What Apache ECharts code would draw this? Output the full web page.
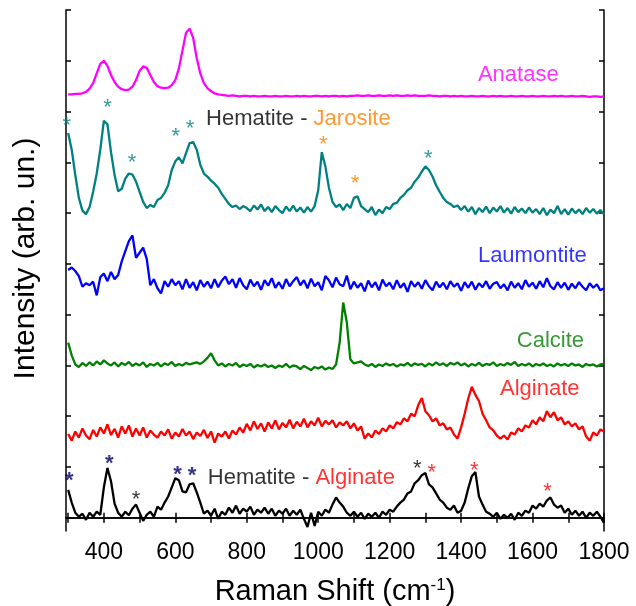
<!DOCTYPE html>
<html><head><meta charset="utf-8">
<script src="https://cdn.jsdelivr.net/npm/echarts@6/dist/echarts.min.js"></script>
<style>html,body{margin:0;padding:0;background:#fff}#c{width:636px;height:606px}</style>
</head><body><div id="c"></div>
<script>
// Raman shift grid (cm-1): 300..1800 every 10
const ramanShift = [];
for (let v = 300; v <= 1800; v += 10) ramanShift.push(v);

const xTicks = [300,400,500,600,700,800,900,1000,1100,1200,1300,1400,1500,1600,1700,1800];
const xTickLabels = [400,600,800,1000,1200,1400,1600,1800];
const yTicks = [0,1,2,3,4,5,6,7,8,9,10];

const anatase = [
8.34,8.34,8.35,8.35,8.36,8.39,8.45,8.56,8.75,8.94,
9.00,8.90,8.72,8.58,8.49,8.44,8.42,8.43,8.49,8.62,
8.80,8.89,8.86,8.72,8.58,8.50,8.47,8.46,8.47,8.52,
8.62,8.85,9.20,9.55,9.63,9.45,9.05,8.75,8.56,8.46,
8.40,8.36,8.34,8.33,8.32,8.31,8.32,8.31,8.30,8.31,
8.31,8.30,8.31,8.30,8.30,8.31,8.30,8.30,8.31,8.30,
8.30,8.31,8.30,8.30,8.31,8.30,8.31,8.30,8.30,8.31,
8.31,8.30,8.31,8.30,8.31,8.31,8.30,8.31,8.30,8.31,
8.31,8.32,8.31,8.31,8.32,8.31,8.31,8.32,8.31,8.31,
8.32,8.31,8.32,8.31,8.31,8.32,8.31,8.32,8.31,8.31,
8.31,8.32,8.31,8.31,8.30,8.31,8.31,8.30,8.31,8.30,
8.31,8.30,8.30,8.31,8.30,8.30,8.31,8.30,8.30,8.31,
8.30,8.31,8.30,8.30,8.31,8.30,8.30,8.31,8.30,8.30,
8.31,8.30,8.30,8.31,8.30,8.30,8.31,8.30,8.31,8.30,
8.30,8.31,8.30,8.30,8.31,8.30,8.29,8.30,8.30,8.29,
8.30];

const hematiteJarosite = [
7.58,7.25,6.75,6.30,6.05,5.98,6.12,6.42,6.78,7.25,
7.82,7.75,7.20,6.75,6.43,6.48,6.68,6.78,6.76,6.62,
6.42,6.22,6.10,6.16,6.12,6.26,6.30,6.40,6.55,6.85,
7.02,7.10,6.98,7.18,7.38,7.40,7.25,6.95,6.78,6.72,
6.64,6.58,6.50,6.38,6.28,6.18,6.12,6.15,6.08,6.14,
6.10,6.04,6.15,6.07,6.17,6.04,6.12,6.02,6.14,6.06,
6.00,6.13,6.04,6.15,6.03,6.11,6.01,6.12,6.03,6.14,
6.45,7.20,6.92,6.50,6.22,6.12,6.17,6.06,6.18,6.10,
6.30,6.33,6.14,6.08,6.02,6.12,5.96,6.07,6.00,6.12,
6.08,6.18,6.20,6.30,6.36,6.45,6.50,6.62,6.70,6.82,
6.92,6.85,6.72,6.55,6.42,6.30,6.22,6.18,6.12,6.15,
6.06,6.14,6.03,6.12,5.98,6.10,6.02,6.13,6.00,6.11,
6.03,6.14,6.01,6.10,5.99,6.12,6.02,6.09,6.00,6.11,
6.01,6.08,5.98,6.10,5.96,6.07,6.00,6.14,5.98,6.08,
5.97,6.09,6.00,6.07,5.98,6.10,6.01,6.08,5.99,6.06,
5.98];

const laumontite = [
4.88,4.93,4.86,4.76,4.55,4.62,4.58,4.65,4.38,4.74,
4.81,4.66,4.84,4.70,4.78,5.05,5.25,5.45,5.56,5.12,
5.22,5.32,5.10,4.58,4.70,4.52,4.42,4.66,4.55,4.70,
4.58,4.66,4.50,4.70,4.53,4.64,4.48,4.68,4.55,4.65,
4.52,4.70,4.54,4.67,4.75,4.60,4.70,4.53,4.72,4.58,
4.50,4.69,4.56,4.65,4.49,4.68,4.57,4.72,4.53,4.64,
4.51,4.70,4.56,4.66,4.74,4.58,4.68,4.52,4.71,4.56,
4.64,4.48,4.76,4.68,4.54,4.73,4.60,4.56,4.77,4.50,
4.65,4.53,4.62,4.46,4.67,4.54,4.64,4.48,4.69,4.56,
4.63,4.50,4.68,4.53,4.62,4.45,4.66,4.55,4.64,4.51,
4.68,4.56,4.48,4.65,4.54,4.63,4.50,4.66,4.55,4.62,
4.47,4.64,4.53,4.65,4.49,4.62,4.54,4.66,4.51,4.61,
4.64,4.52,4.60,4.48,4.65,4.53,4.62,4.50,4.68,4.55,
4.63,4.51,4.66,4.54,4.72,4.56,4.50,4.64,4.53,4.63,
4.49,4.61,4.52,4.64,4.55,4.48,4.62,4.53,4.60,4.48,
4.52];

const calcite = [
3.45,3.20,3.02,2.97,3.05,2.99,3.06,3.00,3.08,3.02,
3.10,3.04,3.00,3.06,2.98,3.05,3.01,3.07,2.99,3.04,
3.00,3.06,2.97,3.03,3.00,3.05,2.98,3.04,3.01,3.07,
2.99,3.03,3.00,3.05,3.02,3.04,3.06,3.03,3.08,3.15,
3.24,3.10,3.00,3.04,2.98,3.03,3.00,3.05,2.97,3.02,
2.99,3.03,2.96,3.01,2.98,3.02,2.97,3.00,2.95,3.00,
2.97,3.03,2.96,3.00,2.98,2.93,2.99,2.95,2.91,2.97,
2.94,2.98,2.92,2.96,2.93,3.02,3.45,4.24,3.85,3.12,
3.04,3.06,3.08,3.02,2.99,3.03,2.97,3.02,2.99,3.04,
3.00,3.03,2.98,3.02,3.00,3.05,2.99,3.04,3.01,3.03,
2.98,3.04,3.00,3.06,3.01,3.04,2.99,3.05,3.02,3.06,
3.00,3.04,2.98,3.03,3.00,3.05,2.99,3.03,3.01,3.06,
2.99,3.03,3.00,3.05,3.01,3.07,2.99,3.03,3.00,3.04,
2.98,3.03,3.00,3.04,2.99,3.02,2.98,3.04,3.00,3.03,
2.99,3.04,3.00,3.02,2.97,3.03,3.00,3.02,2.98,3.02,
3.03];

const alginate = [
1.65,1.52,1.70,1.58,1.76,1.62,1.55,1.73,1.60,1.78,
1.66,1.84,1.63,1.75,1.58,1.80,1.66,1.82,1.60,1.76,
1.62,1.78,1.58,1.72,1.64,1.58,1.70,1.62,1.74,1.56,
1.68,1.60,1.75,1.62,1.70,1.55,1.68,1.61,1.73,1.57,
1.70,1.48,1.66,1.60,1.70,1.56,1.72,1.64,1.78,1.68,
1.85,1.72,1.90,1.75,1.86,1.70,1.88,1.76,1.92,1.74,
1.87,1.78,1.93,1.76,1.89,1.80,1.95,1.78,1.90,1.82,
1.97,1.80,1.91,1.84,1.92,1.78,1.88,1.82,1.90,1.76,
1.86,1.72,1.80,1.56,1.66,1.58,1.72,1.65,1.76,1.70,
1.82,1.76,1.88,1.84,1.96,1.90,2.05,2.00,2.22,2.36,
2.10,2.02,1.90,1.96,1.82,1.86,1.74,1.78,1.64,1.56,
1.78,2.05,2.35,2.58,2.42,2.30,2.05,1.92,1.78,1.72,
1.62,1.56,1.62,1.54,1.68,1.64,1.76,1.70,1.82,1.78,
1.92,1.84,1.98,1.90,2.10,1.98,2.08,1.92,1.98,1.84,
1.90,1.80,1.86,1.74,1.80,1.60,1.52,1.68,1.62,1.74,
1.70];

const hematiteAlginate = [
0.55,0.30,0.10,0.02,0.08,-0.04,0.10,0.02,0.12,0.06,
0.60,0.98,0.72,0.28,0.10,0.02,0.12,0.05,0.18,0.26,
0.10,-0.06,0.06,0.12,0.02,0.22,0.16,0.30,0.42,0.60,
0.78,0.74,0.52,0.50,0.66,0.68,0.50,0.30,0.08,0.14,
0.04,0.18,-0.02,0.12,0.06,0.20,0.10,0.24,0.08,0.18,
0.12,0.22,0.06,0.16,0.10,0.20,0.08,0.18,0.04,0.14,
0.08,0.18,0.04,0.14,0.06,0.16,-0.02,-0.18,0.10,-0.16,
0.12,0.04,0.16,0.10,0.26,0.40,0.30,0.22,0.10,0.04,
0.12,0.02,0.10,-0.02,0.08,0.02,0.10,0.00,0.12,0.06,
0.16,0.12,0.22,0.30,0.36,0.48,0.52,0.68,0.74,0.84,
0.88,0.66,0.60,0.48,0.36,0.30,0.20,0.16,0.24,0.10,
0.14,0.30,0.58,0.82,0.90,0.42,0.26,0.12,0.08,0.02,
0.10,-0.02,0.06,0.00,0.08,-0.04,0.10,0.04,0.14,0.10,
0.24,0.18,0.28,0.22,0.34,0.40,0.26,0.20,0.24,0.10,
0.18,0.06,0.14,0.04,0.12,0.00,0.10,0.04,0.12,0.02,
-0.10];

// Series names and colours
const seriesNames = ['Anatase','Hematite - Jarosite','Laumontite','Calcite','Alginate','Hematite - Alginate'];
const seriesColors = ['#FF00FF','#008080','#0000FF','#008000','#FF0000','#000000'];
const seriesValues = [anatase, hematiteJarosite, laumontite, calcite, alginate, hematiteAlginate];

// Text annotations (data coordinates of left edge / vertical centre)
const annotationTexts = ['{m|Anatase}','{k|Hematite - }{o|Jarosite}','{b|Laumontite}','{g|Calcite}','{r|Alginate}','{k|Hematite - }{r|Alginate}'];
const annotationX = [1447, 686, 1447, 1556, 1509, 691];
const annotationY = [8.72, 7.85, 5.16, 3.48, 2.53, 0.78];

// Asterisk peak markers (data coordinates of their centre)
const starX = [296, 410, 479, 601, 641, 1014, 1103, 1308, 303, 415, 490, 606, 647, 1277, 1318, 1437, 1642];
const starY = [7.82, 8.17, 7.09, 7.59, 7.76, 7.44, 6.67, 7.16, 0.815, 1.158, 0.454, 0.947, 0.913, 1.065, 0.98, 1.026, 0.606];
const starColor = ['#008080','#008080','#008080','#008080','#008080','#FF8000','#FF8000','#008080','#000066','#000066','#000000','#000066','#000066','#000000','#FF0000','#FF0000','#FF0000'];
const starBold = [false,false,false,false,false,false,false,false,true,true,false,true,true,false,false,false,false];

const FONT = 'Liberation Sans, Arial, Helvetica, sans-serif';
const chart = echarts.init(document.getElementById('c'), null, {renderer: 'canvas'});

const lineSeries = seriesValues.map((vals, k) => ({
  name: seriesNames[k],
  type: 'line',
  data: ramanShift.map((x, i) => [x, vals[i]]),
  showSymbol: false,
  symbol: 'none',
  lineStyle: {color: seriesColors[k], width: 2.3},
  itemStyle: {color: seriesColors[k]},
  silent: true,
  z: 3
}));

const textSeries = {
  type: 'scatter',
  symbolSize: 0,
  silent: true,
  clip: false,
  z: 5,
  data: annotationTexts.map((t, i) => ({value: [annotationX[i], annotationY[i]], label: {formatter: t}})),
  label: {
    show: true, position: 'right', distance: 0,
    fontFamily: FONT, fontSize: 22,
    rich: {
      m: {color: '#FF00FF', fontSize: 22, fontFamily: FONT},
      k: {color: '#000000', fontSize: 22, fontFamily: FONT},
      o: {color: '#FF8000', fontSize: 22, fontFamily: FONT},
      b: {color: '#0000FF', fontSize: 22, fontFamily: FONT},
      g: {color: '#008000', fontSize: 22, fontFamily: FONT},
      r: {color: '#FF0000', fontSize: 22, fontFamily: FONT}
    }
  }
};

const starSeries = {
  type: 'scatter',
  symbolSize: 0,
  silent: true,
  clip: false,
  z: 5,
  data: starX.map((x, i) => ({
    value: [x, starY[i]],
    label: {color: starColor[i], fontWeight: starBold[i] ? 'bold' : 'normal'}
  })),
  label: {
    show: true, position: 'inside', formatter: '*',
    fontFamily: FONT, fontSize: 22, offset: [0, 5]
  }
};

const axisLineStyle = {lineStyle: {color: '#000', width: 1.5}};
const tickStyle = {inside: true, length: 5, lineStyle: {color: '#000', width: 1.5}};

chart.setOption({
  animation: false,
  backgroundColor: '#fff',
  grid: {left: 66, right: 32, top: 10, bottom: 75, containLabel: false, outerBoundsMode: 'none'},
  xAxis: [{
    type: 'value', min: 294, max: 1800, position: 'bottom',
    axisLine: axisLineStyle,
    axisTick: Object.assign({customValues: xTicks}, tickStyle),
    axisLabel: {customValues: xTickLabels, color: '#000', fontSize: 23, fontFamily: FONT, margin: 10,
      formatter: function (v) { return String(v); }},
    splitLine: {show: false},
    name: 'Raman Shift (cm{sup|-1})',
    nameLocation: 'middle', nameGap: 46,
    nameTextStyle: {color: '#000', fontSize: 29, fontFamily: FONT,
      rich: {sup: {fontSize: 17, fontFamily: FONT, color: '#000', verticalAlign: 'top', padding: [0, 0, 10, 0]}}}
  }, {
    type: 'value', min: 294, max: 1800, position: 'top',
    axisLine: axisLineStyle,
    axisTick: Object.assign({customValues: xTicks}, tickStyle),
    axisLabel: {show: false},
    splitLine: {show: false}
  }],
  yAxis: [{
    type: 'value', min: -0.26, max: 10, position: 'left',
    axisLine: Object.assign({show: true}, axisLineStyle),
    axisTick: Object.assign({show: true, customValues: yTicks}, tickStyle),
    axisLabel: {show: false},
    splitLine: {show: false},
    name: 'Intensity (arb. un.)',
    nameLocation: 'middle', nameRotate: 90, nameGap: 25,
    nameTextStyle: {color: '#000', fontSize: 30, fontFamily: FONT, padding: [0, 0, 0, 24]}
  }, {
    type: 'value', min: -0.26, max: 10, position: 'right',
    axisLine: Object.assign({show: true}, axisLineStyle),
    axisTick: Object.assign({show: true, customValues: yTicks}, tickStyle),
    axisLabel: {show: false},
    splitLine: {show: false}
  }],
  series: lineSeries.concat([textSeries, starSeries])
});
</script>
</body></html>
